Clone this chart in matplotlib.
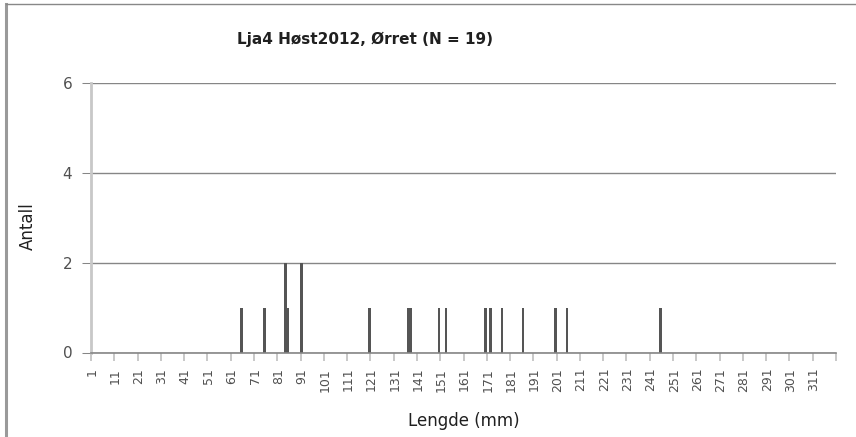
import numpy as np
import matplotlib
matplotlib.use("Agg")
import matplotlib.pyplot as plt
from matplotlib.lines import Line2D

# -- data: length class (mm) and number of fish
lengths = [65, 75, 84, 85, 91, 120, 137, 138, 150, 153, 170, 172, 177, 186, 200, 205, 245]
counts = [1, 1, 2, 1, 2, 1, 1, 1, 1, 1, 1, 1, 1, 1, 1, 1, 1]
n_classes = 320
tick_labels = [str(v) for v in range(1, n_classes, 10)]
y_ticks = [0, 2, 4, 6]

title = "Lja4 Høst2012, Ørret (N = 19)"

# -- full category axis, zero where no fish
categories = np.arange(1, n_classes + 1)
values = np.zeros(n_classes)
for l, c in zip(lengths, counts):
  values[l - 1] = c

plt.rcParams['font.family'] = ['DejaVu Sans']

fig = plt.figure(figsize=(8.56, 4.37), dpi=100)
ax = fig.add_axes([91/856, 1 - 352.5/437, 745/856, 269.5/437])

gridcol = '#868686'
ax.set_axisbelow(True)
ax.yaxis.grid(True, color=gridcol, linewidth=1.0)
ax.bar(categories, values, width=1.15, color='#555555', linewidth=0)

ax.set_xlim(0.5, n_classes + 0.5)
ax.set_ylim(0, 6)

# -- y axis
ax.set_yticks(y_ticks)
ax.tick_params(axis='y', length=6.5, width=0.75, color=gridcol, pad=7,
               labelsize=11, labelcolor='#505050')

# -- x axis: labels at category centres, marks between categories
ax.set_xticks(categories[::10])
ax.set_xticklabels(tick_labels, rotation=90, fontsize=9, color='#505050')
ax.set_xticks(np.arange(0.5, n_classes + 1, 10), minor=True)
ax.tick_params(axis='x', which='major', length=0, pad=11)
ax.tick_params(axis='x', which='minor', length=5.5, width=1.3, color='#c4c4c4')

for s in ['top', 'right']:
  ax.spines[s].set_visible(False)
ax.spines['left'].set_color('#c8c8c8')
ax.spines['left'].set_linewidth(2.0)
ax.spines['bottom'].set_color(gridcol)
ax.spines['bottom'].set_linewidth(1.2)

ax.set_xlabel("Lengde (mm)", fontsize=12, color='#202020', labelpad=15)
ax.set_ylabel("Antall", fontsize=12, color='#202020')
ax.yaxis.set_label_coords(-0.073, 0.47)

fig.text(365/856, 1 - 39/437, title, ha='center', va='center',
         fontsize=11, fontweight='bold', color='#202020')

# -- chart area border (left and top edge visible)
fig.add_artist(Line2D([5.5/856, 5.5/856], [0, 1 - 4/437], color='#9a9a9a', linewidth=2.2))
fig.add_artist(Line2D([5.5/856, 1], [1 - 4/437, 1 - 4/437], color='#888888', linewidth=1.0))

fig.savefig("out.png", dpi=100)
